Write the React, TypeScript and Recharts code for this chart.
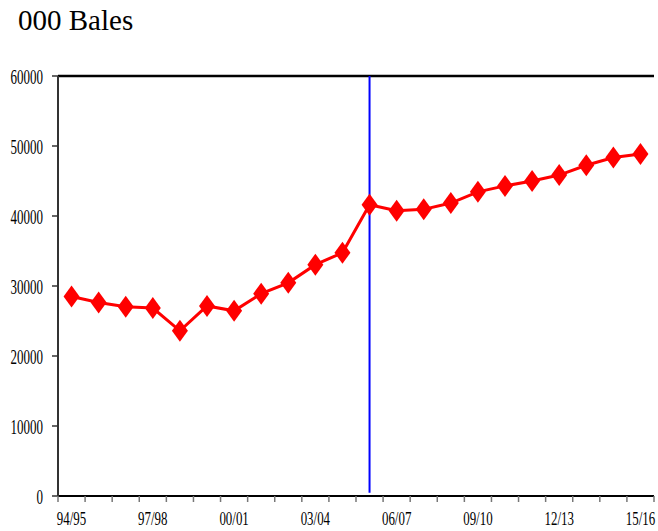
import React from "react";
import { LineChart, Line, XAxis, YAxis, CartesianGrid, ReferenceLine } from "recharts";

const CATEGORIES = [
  "94/95", "95/96", "96/97", "97/98", "98/99", "99/00", "00/01", "01/02", "02/03", "03/04", "04/05",
  "05/06", "06/07", "07/08", "08/09", "09/10", "10/11", "11/12", "12/13", "13/14", "14/15", "15/16",
];
const BALES = [
  28500, 27650, 27050, 26850, 23600, 27150, 26450, 28900, 30450, 33050, 34750,
  41600, 40750, 40950, 41850, 43450, 44300, 45000, 45850, 47250, 48350, 48850,
];
const Y_TICKS = [0, 10000, 20000, 30000, 40000, 50000, 60000];
const LABEL_EVERY = 3;
const MARKER_CATEGORY = "05/06";
const TITLE = "000 Bales";

const data = CATEGORIES.map((c, i) => ({ cat: c, v: BALES[i] }));

const W = 658;
const H = 531;
const FONT = "'Liberation Serif', 'Times New Roman', serif";

const Diamond = (props: any) => {
  const { cx, cy } = props;
  if (cx == null || cy == null) return null;
  return (
    <polygon
      points={`${cx},${cy - 11} ${cx + 8},${cy} ${cx},${cy + 11} ${cx - 8},${cy}`}
      fill="#FF0000"
      stroke="none"
    />
  );
};

const YTick = (props: any) => {
  const { x, y, payload } = props;
  return (
    <text
      transform={`translate(${x},${y}) scale(0.65,1)`}
      textAnchor="end"
      dy="0.38em"
      fontSize={20}
      fontFamily={FONT}
      fill="#000"
    >
      {payload.value}
    </text>
  );
};

const XTick = (props: any) => {
  const { x, y, payload, index, width } = props;
  const band = (width || 596) / CATEGORIES.length;
  const showLabel = index % LABEL_EVERY === 0;
  const isLast = index === CATEGORIES.length - 1;
  return (
    <g>
      <line x1={x - band / 2} x2={x - band / 2} y1={y} y2={y + 6} stroke="#777" strokeWidth={1.5} />
      {isLast && (
        <line x1={x + band / 2} x2={x + band / 2} y1={y} y2={y + 6} stroke="#777" strokeWidth={1.5} />
      )}
      {showLabel && (
        <text
          transform={`translate(${x},${y + 29}) scale(0.68,1)`}
          textAnchor="middle"
          fontSize={19}
          fontFamily={FONT}
          fill="#000"
        >
          {payload.value}
        </text>
      )}
    </g>
  );
};

export default function App() {
  return (
    <div style={{ position: "absolute", left: 0, top: 0, width: W, height: H, background: "#fff" }}>
      <div
        style={{
          position: "absolute",
          left: 18,
          top: 6,
          fontFamily: FONT,
          fontSize: 29,
          lineHeight: "29px",
          color: "#000",
          whiteSpace: "nowrap",
        }}
      >
        {TITLE}
      </div>
      <LineChart width={W} height={H} data={data} margin={{ top: 76, right: 4, bottom: 0, left: 0 }}>
        <CartesianGrid vertical={false} stroke="#000" strokeWidth={1.2} />
        <XAxis
          dataKey="cat"
          scale="band"
          interval={0}
          height={35}
          tickSize={0}
          tickMargin={0}
          tickLine={false}
          axisLine={{ stroke: "#000", strokeWidth: 2 }}
          tick={<XTick />}
        />
        <YAxis
          yAxisId="left"
          width={58}
          domain={[0, 60000]}
          ticks={Y_TICKS}
          interval={0}
          tickSize={6}
          tickMargin={9}
          tickLine={{ stroke: "#333", strokeWidth: 1.5 }}
          axisLine={{ stroke: "#333", strokeWidth: 2 }}
          tick={<YTick />}
        />
        <YAxis
          yAxisId="right"
          orientation="right"
          width={0}
          domain={[0, 60000]}
          ticks={Y_TICKS}
          tick={false}
          tickLine={false}
          axisLine={{ stroke: "#999", strokeWidth: 1.5 }}
        />
        <ReferenceLine yAxisId="left" y={60000} stroke="#000" strokeWidth={2.5} />
        <Line
          yAxisId="left"
          type="linear"
          dataKey="v"
          stroke="#FF0000"
          strokeWidth={3}
          dot={<Diamond />}
          activeDot={false}
          isAnimationActive={false}
        />
        <ReferenceLine
          yAxisId="left"
          segment={[
            { x: MARKER_CATEGORY, y: 450 },
            { x: MARKER_CATEGORY, y: 60000 },
          ]}
          stroke="#0000FF"
          strokeWidth={2}
        />
      </LineChart>
    </div>
  );
}
